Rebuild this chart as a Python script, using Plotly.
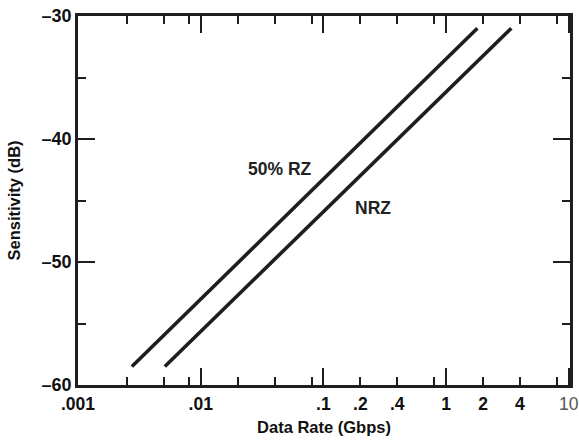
import numpy as np
import plotly.graph_objects as go

# Data
rz_rate = [0.00275, 1.8]      # Gbps
rz_sens = [-58.5, -31.0]      # dB
nrz_rate = [0.0051, 3.4]      # Gbps
nrz_sens = [-58.5, -31.0]     # dB

x_major = [0.001, 0.01, 0.1, 1, 10]
x_minor = [0.0025, 0.005, 0.008, 0.02, 0.04, 0.08, 0.2, 0.4, 0.8, 2, 4, 8]
x_label_vals = [0.001, 0.01, 0.1, 0.2, 0.4, 1, 2, 4, 10]
x_label_text = [".001", ".01", ".1", ".2", ".4", "1", "2", "4",
                "<span style='font-weight:normal;color:#555'>10</span>"]
y_major = [-30, -40, -50, -60]
y_major_text = ["\u201330", "\u201340", "\u201350", "\u201360"]
y_minor = [-35, -45, -55]

INK = "#1e1e1e"
FONT = "Liberation Sans"

fig = go.Figure()
fig.add_trace(go.Scatter(x=rz_rate, y=rz_sens, mode="lines",
                         line=dict(color=INK, width=3.6), showlegend=False))
fig.add_trace(go.Scatter(x=nrz_rate, y=nrz_sens, mode="lines",
                         line=dict(color=INK, width=3.6), showlegend=False))
# invisible trace on the label axis
fig.add_trace(go.Scatter(x=[0.001, 10], y=[-60, -30], xaxis="x2", mode="markers",
                         marker=dict(opacity=0), showlegend=False, hoverinfo="skip"))

fig.update_layout(
    width=579, height=440,
    margin=dict(l=78, r=9, t=16, b=55),
    paper_bgcolor="white", plot_bgcolor="white",
    font=dict(family=FONT, color="#111"),
    xaxis=dict(
        type="log", range=[-3, 1.01], automargin=False,
        showline=True, linewidth=2.5, linecolor=INK, mirror="ticks",
        ticks="inside", tickvals=x_major, ticklen=17, tickwidth=2, tickcolor=INK,
        showticklabels=False, showgrid=False, zeroline=False,
        minor=dict(tickvals=x_minor, ticks="inside", ticklen=8, tickwidth=2,
                   tickcolor=INK, showgrid=False),
    ),
    xaxis2=dict(
        type="log", range=[-3, 1.01], overlaying="x", anchor="y", side="bottom",
        automargin=False, ticklabeloverflow="allow",
        showline=False, showgrid=False, zeroline=False, ticks="",
        tickvals=x_label_vals, ticktext=x_label_text, ticklabelstandoff=6,
        tickfont=dict(size=17.5, family=FONT, weight="bold", color="#111"),
        title=dict(text="Data Rate (Gbps)", standoff=8,
                   font=dict(size=16.5, family=FONT, weight="bold", color="#111")),
    ),
    yaxis=dict(
        range=[-60, -30], automargin=False, ticklabeloverflow="allow",
        showline=True, linewidth=2.5, linecolor=INK, mirror="ticks",
        ticks="inside", tickvals=y_major, ticktext=y_major_text,
        ticklen=17, tickwidth=2, tickcolor=INK,
        showgrid=False, zeroline=False, ticklabelstandoff=0,
        tickfont=dict(size=18, family=FONT, weight="bold", color="#111"),
        minor=dict(tickvals=y_minor, ticks="inside", ticklen=8, tickwidth=2,
                   tickcolor=INK, showgrid=False),
        title=dict(text="Sensitivity (dB)", standoff=17,
                   font=dict(size=16.5, family=FONT, weight="bold", color="#111")),
    ),
    annotations=[
        dict(x=np.log10(0.0443), y=-42.45, xref="x", yref="y", text="50% RZ",
             showarrow=False, font=dict(size=17.5, family=FONT, weight="bold", color="#222")),
        dict(x=np.log10(0.2535), y=-45.6, xref="x", yref="y", text="NRZ",
             showarrow=False, font=dict(size=17.5, family=FONT, weight="bold", color="#222")),
    ],
)

# remove the browser's default 8px body margin so the figure sits at the page origin
fig.write_html("out.html", config={"displayModeBar": False},
               post_script="document.body.style.margin='0px';")
